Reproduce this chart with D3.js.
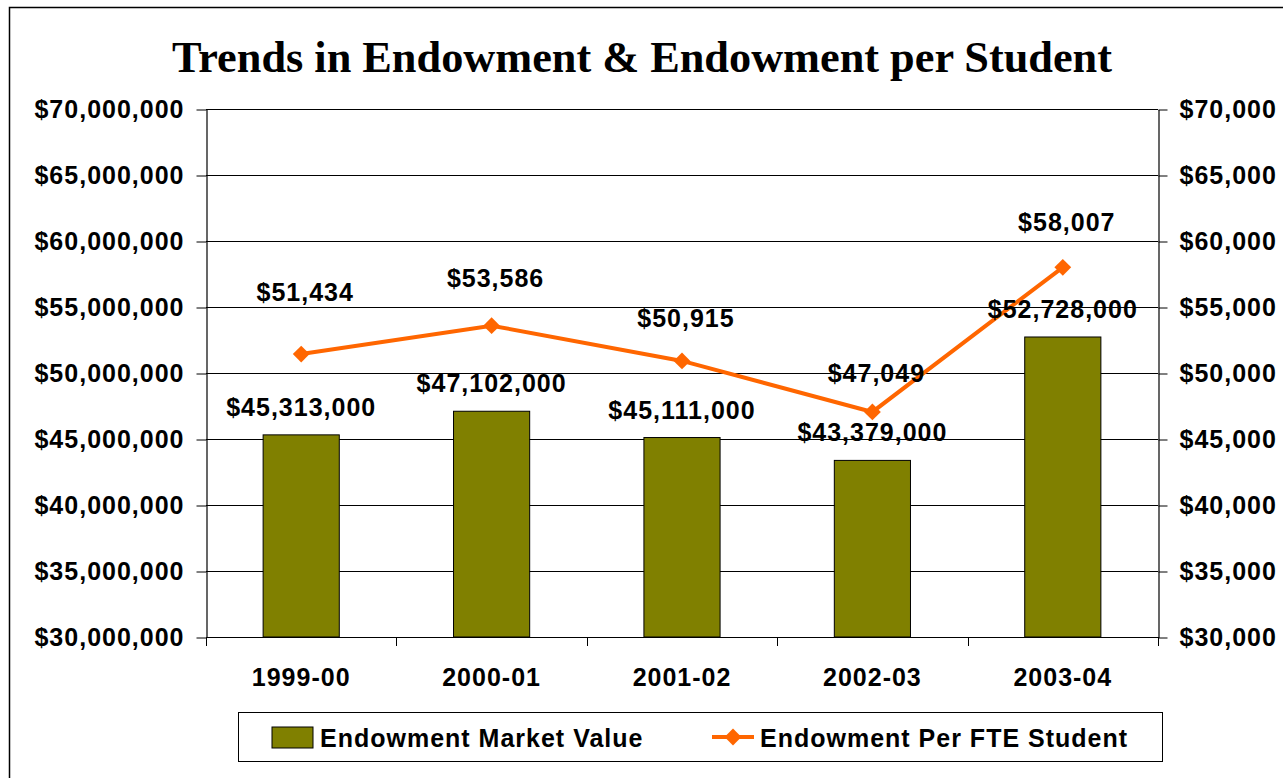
<!DOCTYPE html>
<html>
<head>
<meta charset="utf-8">
<script src="https://cdn.jsdelivr.net/npm/d3@7"></script>
<style>
  body { margin: 0; background: #fff; }
</style>
</head>
<body>
<svg id="chart" width="1283" height="778" font-family="Arial, 'Liberation Sans', sans-serif" font-weight="bold"></svg>
<script>
// data
let years = ["1999-00", "2000-01", "2001-02", "2002-03", "2003-04"];
let marketValue = [45313000, 47102000, 45111000, 43379000, 52728000];
let perStudent = [51434, 53586, 50915, 47049, 58007];
let leftTicks = [30000000, 35000000, 40000000, 45000000, 50000000, 55000000, 60000000, 65000000, 70000000];
let rightTicks = [30000, 35000, 40000, 45000, 50000, 55000, 60000, 65000, 70000];
// line label nudges (labels were hand placed in the original)
let lineLabelLift = [53, 39, 34, 30, 36];

let svg = d3.select("#chart");

// outer frame
svg.append("rect")
    .attr("x", 9.5).attr("y", 7.5)
    .attr("width", 1300).attr("height", 800)
    .attr("fill", "#fff")
    .attr("stroke", "#000")
    .attr("stroke-width", 1.5);

// plot area
let plotL = 206, plotR = 1158, plotT = 109, plotB = 637;

let x = d3.scaleBand().domain(years).range([plotL, plotR]).paddingInner(0).paddingOuter(0);
let yL = d3.scaleLinear().domain([30000000, 70000000]).range([plotB, plotT]);
let yR = d3.scaleLinear().domain([30000, 70000]).range([plotB, plotT]);

let money = d3.format("$,");
let fs = 25, ls = 1;

// gridlines
svg.append("g").selectAll("line")
    .data(leftTicks).enter()
    .append("line")
    .attr("x1", plotL).attr("x2", plotR)
    .attr("y1", d => Math.round(yL(d)) + 0.5)
    .attr("y2", d => Math.round(yL(d)) + 0.5)
    .attr("stroke", "#000")
    .attr("stroke-width", 1);

// left axis
let axL = svg.append("g")
    .attr("transform", "translate(" + (plotL + 0.5) + ",0.5)")
    .call(d3.axisLeft(yL).tickValues(leftTicks).tickFormat(money).tickSize(10).tickSizeOuter(0));
axL.selectAll("text").attr("dx", -9);

// right axis
let axR = svg.append("g")
    .attr("transform", "translate(" + (plotR + 0.5) + ",0.5)")
    .call(d3.axisRight(yR).tickValues(rightTicks).tickFormat(money).tickSize(9).tickSizeOuter(0));
axR.selectAll("text").attr("dx", 9);

svg.selectAll(".domain").attr("stroke", "#000").attr("stroke-width", 1.2);
svg.selectAll(".tick line").attr("stroke", "#000");
svg.selectAll(".tick text")
    .attr("font-family", "Arial, 'Liberation Sans', sans-serif")
    .attr("font-weight", "bold")
    .attr("font-size", fs)
    .attr("letter-spacing", ls)
    .attr("fill", "#000");

// x axis with ticks between categories
let bounds = years.map(d => x(d)).concat([plotR]);
svg.append("line")
    .attr("x1", plotL).attr("x2", plotR)
    .attr("y1", plotB + 0.5).attr("y2", plotB + 0.5)
    .attr("stroke", "#000");
svg.append("g").selectAll("line")
    .data(bounds).enter()
    .append("line")
    .attr("x1", d => Math.round(d) + 0.5).attr("x2", d => Math.round(d) + 0.5)
    .attr("y1", plotB).attr("y2", plotB + 9)
    .attr("stroke", "#000");
svg.append("g").selectAll("text")
    .data(years).enter()
    .append("text")
    .attr("x", d => x(d) + x.bandwidth() / 2)
    .attr("y", 686)
    .attr("text-anchor", "middle")
    .attr("font-size", fs)
    .attr("letter-spacing", ls)
    .text(d => d);

// bars
let barW = x.bandwidth() * 0.4;
svg.append("g").selectAll("rect")
    .data(marketValue).enter()
    .append("rect")
    .attr("x", (d, i) => x(years[i]) + (x.bandwidth() - barW) / 2)
    .attr("y", d => yL(d))
    .attr("width", barW)
    .attr("height", d => plotB - yL(d))
    .attr("fill", "#808000")
    .attr("stroke", "#000")
    .attr("stroke-width", 1);

// line
let cx = i => x(years[i]) + x.bandwidth() / 2;
let line = d3.line().x((d, i) => cx(i)).y(d => yR(d));
svg.append("path")
    .datum(perStudent)
    .attr("d", line)
    .attr("fill", "none")
    .attr("stroke", "#FF6600")
    .attr("stroke-width", 4);

let diamond = d3.symbol().type(d3.symbolDiamond2).size(180);
svg.append("g").selectAll("path")
    .data(perStudent).enter()
    .append("path")
    .attr("d", diamond)
    .attr("transform", (d, i) => "translate(" + cx(i) + "," + yR(d) + ")")
    .attr("fill", "#FF6600");

// bar labels
svg.append("g").selectAll("text")
    .data(marketValue).enter()
    .append("text")
    .attr("x", (d, i) => cx(i))
    .attr("y", d => yL(d) - 19)
    .attr("text-anchor", "middle")
    .attr("font-size", fs)
    .attr("letter-spacing", ls)
    .text(d => money(d));

// line labels
svg.append("g").selectAll("text")
    .data(perStudent).enter()
    .append("text")
    .attr("x", (d, i) => cx(i) + 4)
    .attr("y", (d, i) => yR(d) - lineLabelLift[i])
    .attr("text-anchor", "middle")
    .attr("font-size", fs)
    .attr("letter-spacing", ls)
    .text(d => money(d));

// title
svg.append("text")
    .attr("x", 642)
    .attr("y", 72)
    .attr("text-anchor", "middle")
    .attr("font-family", "'Liberation Serif', 'DejaVu Serif', serif")
    .attr("font-size", 44)
    .attr("textLength", 940)
    .attr("lengthAdjust", "spacingAndGlyphs")
    .text("Trends in Endowment & Endowment per Student");

// legend
let lg = svg.append("g");
lg.append("rect")
    .attr("x", 238.5).attr("y", 712.5)
    .attr("width", 924).attr("height", 49)
    .attr("fill", "#fff")
    .attr("stroke", "#000");
lg.append("rect")
    .attr("x", 272).attr("y", 727)
    .attr("width", 41).attr("height", 21)
    .attr("fill", "#808000")
    .attr("stroke", "#000");
lg.append("text")
    .attr("x", 320).attr("y", 747)
    .attr("font-size", fs)
    .attr("letter-spacing", ls)
    .text("Endowment Market Value");
lg.append("line")
    .attr("x1", 712).attr("x2", 754)
    .attr("y1", 737).attr("y2", 737)
    .attr("stroke", "#FF6600")
    .attr("stroke-width", 4);
lg.append("path")
    .attr("d", diamond)
    .attr("transform", "translate(733,737)")
    .attr("fill", "#FF6600");
lg.append("text")
    .attr("x", 760).attr("y", 747)
    .attr("font-size", fs)
    .attr("letter-spacing", ls)
    .text("Endowment Per FTE Student");
</script>
</body>
</html>
